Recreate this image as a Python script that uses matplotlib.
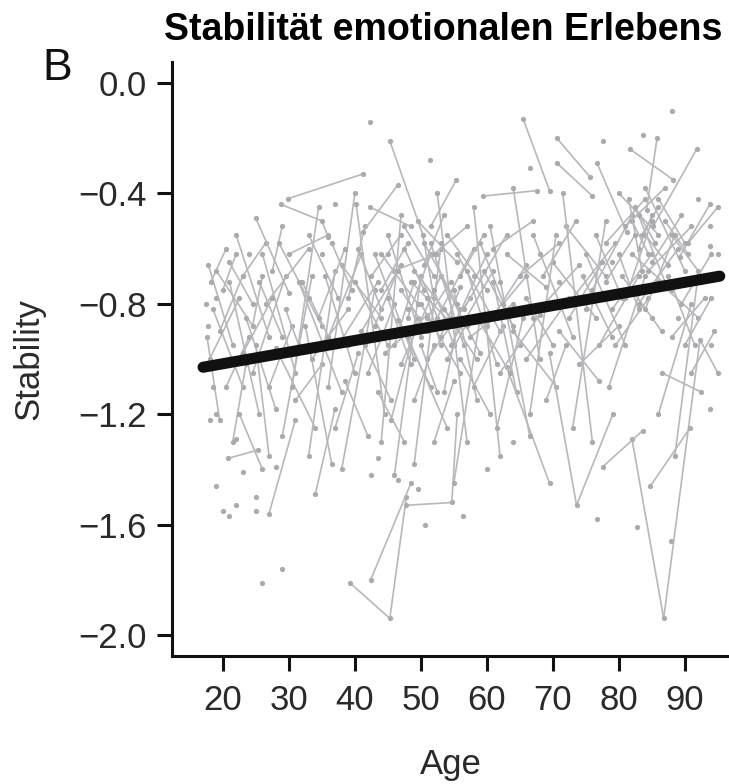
import matplotlib
matplotlib.use("Agg")
import matplotlib.pyplot as plt

plt.rcParams['font.family'] = ['Liberation Sans', 'DejaVu Sans']

# ---- data ----
traj_age = [
    [17.8, 21.5], [18.2, 20.5], [18.5, 23.0], [17.6, 19.5], [18.0, 22.5],
    [19.0, 24.5, 26.0], [20.0, 22.0], [20.5, 24.0], [21.0, 25.5], [21.5, 23.5],
    [22.0, 27.0], [23.0, 26.5], [23.5, 28.0], [25.0, 30.0], [24.5, 29.5],
    [25.0, 27.0], [26.0, 31.0], [26.5, 33.0], [27.0, 30.5], [27.5, 29.0],
    [28.0, 34.0], [28.5, 35.0], [29.0, 33.5], [29.5, 31.5], [30.0, 36.0],
    [31.0, 35.0], [31.5, 38.0], [20.8, 25.3], [27.0, 31.0], [34.0, 37.0],
    [28.8, 35.0, 36.0], [29.8, 41.2], [32.5, 36.5], [33.0, 37.5], [33.5, 39.0],
    [35.5, 40.0], [36.0, 41.0], [37.0, 40.5], [38.0, 44.0], [38.5, 42.0],
    [39.0, 41.5], [40.2, 44.5], [41.2, 46.5], [42.3, 48.5], [45.3, 50.3, 52.0],
    [40.0, 45.0], [41.0, 47.0], [42.0, 46.0], [43.0, 49.0], [43.5, 47.5],
    [44.0, 48.0], [44.5, 51.0], [45.0, 50.0], [45.5, 49.5], [46.0, 52.5],
    [46.5, 51.5], [47.0, 53.0], [47.5, 50.5], [48.0, 54.0], [48.5, 55.0],
    [49.0, 52.0], [49.5, 55.5], [50.0, 56.0], [50.5, 53.5], [51.0, 57.5],
    [51.5, 56.5], [52.0, 55.0], [52.5, 58.0], [53.0, 59.0], [53.5, 56.0],
    [54.0, 60.0], [54.5, 61.0], [55.0, 58.5], [55.5, 62.0], [56.0, 60.5],
    [56.5, 63.0], [57.0, 61.5], [57.5, 64.0], [58.0, 62.5], [51.5, 55.4],
    [59.4, 67.6], [59.0, 65.0], [60.0, 66.0], [61.0, 64.5], [62.0, 68.0],
    [63.0, 69.0], [64.0, 70.5], [65.5, 69.5], [65.0, 71.0], [66.0, 72.5],
    [67.0, 73.0], [68.0, 74.0], [69.0, 72.0], [70.6, 75.6], [70.6, 76.0],
    [70.0, 76.5], [71.0, 77.0], [72.0, 78.0], [73.0, 79.5], [74.0, 80.0],
    [75.0, 81.0], [76.7, 81.2], [76.0, 82.0], [77.0, 83.0], [78.0, 84.0],
    [79.0, 85.0], [80.0, 86.0], [80.5, 86.5], [81.0, 87.0], [81.7, 88.2],
    [82.0, 88.0], [82.5, 85.5], [83.0, 89.0], [83.5, 86.0], [84.0, 90.0],
    [84.5, 91.0], [85.2, 91.8], [84.2, 85.8], [86.0, 92.0], [87.0, 90.5],
    [89.2, 93.8], [88.0, 93.0], [86.5, 92.5], [82.0, 86.8, 92.3, 95.0], [84.8, 90.8],
    [69.5, 73.6, 79.1], [63.0, 69.5], [77.6, 83.6], [39.2, 45.3, 47.8], [42.4, 48.5],
    [47.8, 54.7, 55.5], [44.0, 47.0], [46.0, 50.0], [49.0, 53.0], [52.5, 57.0],
    [58.0, 62.0], [60.5, 66.5], [64.0, 68.0], [71.5, 76.0], [73.0, 78.0],
    [78.5, 84.0], [86.0, 91.0], [88.5, 92.0], [36.0, 40.0], [33.0, 37.0],
    [30.5, 34.5], [38.0, 43.0], [55.0, 59.0], [61.5, 65.5], [66.5, 70.5],
    [90.0, 94.0], [91.0, 94.5], [22.5, 26.0], [82.0, 84.5], [83.0, 85.0],
    [84.0, 87.5], [81.5, 83.5], [50.0, 53.0], [51.0, 54.5], [52.0, 55.0],
    [53.0, 56.0],
    [40.5, 44.0], [41.5, 45.5], [42.5, 47.0], [43.0, 46.5], [44.0, 49.5],
    [45.0, 48.5], [46.0, 49.0], [47.0, 51.0], [47.5, 52.0], [48.0, 51.5],
    [49.0, 54.5], [50.0, 52.5], [50.5, 55.5], [51.0, 53.0], [52.0, 57.0],
    [53.5, 58.5], [54.0, 57.5], [55.0, 60.0], [56.0, 59.5], [58.5, 63.5],
    [59.5, 64.0], [61.0, 67.0], [62.5, 66.0], [66.0, 70.0], [68.5, 73.5],
    [72.5, 77.5], [74.5, 79.0], [76.5, 80.5], [78.0, 82.5], [79.5, 84.5],
    [80.0, 83.0], [81.0, 85.0], [83.0, 87.0], [84.0, 88.5], [85.0, 89.5],
    [86.0, 90.0], [87.5, 91.5], [88.0, 92.0], [89.5, 94.0], [90.5, 95.0],
    [19.5, 23.0], [21.0, 24.5], [23.0, 27.5], [25.5, 29.0], [32.0, 36.0],
    [34.5, 38.5], [36.5, 39.5], [37.5, 43.5],
]
traj_val = [
    [-0.66, -0.95], [-0.72, -0.60], [-0.82, -1.10], [-0.92, -1.22], [-1.00, -0.78],
    [-0.68, -0.88, -0.70], [-0.75, -0.62], [-1.10, -0.92], [-0.72, -1.20], [-1.30, -1.02],
    [-0.55, -0.92], [-0.70, -0.58], [-0.85, -1.18], [-0.49, -0.76], [-1.05, -0.70],
    [-0.95, -1.35], [-0.62, -1.05], [-0.80, -0.60], [-1.10, -0.88], [-0.68, -0.52],
    [-0.96, -1.25], [-0.58, -0.88], [-1.28, -0.70], [-0.82, -0.95], [-0.62, -0.55],
    [-1.15, -1.02], [-0.72, -1.12], [-1.36, -1.33], [-1.56, -1.22], [-1.49, -1.18],
    [-0.44, -0.50, -0.56], [-0.42, -0.33], [-0.88, -1.38], [-0.55, -0.78], [-1.00, -0.82],
    [-0.70, -1.05], [-0.92, -0.62], [-1.25, -0.98], [-0.66, -0.85], [-1.08, -1.28],
    [-0.78, -0.52], [-0.44, -1.20], [-0.54, -0.37], [-0.45, -0.52], [-0.21, -0.55, -0.78],
    [-0.72, -0.95], [-0.90, -0.66], [-1.05, -0.80], [-0.62, -1.00], [-1.12, -1.30],
    [-0.75, -0.58], [-0.98, -0.84], [-0.55, -0.92], [-1.22, -0.85], [-0.68, -0.62],
    [-0.86, -1.10], [-1.02, -0.70], [-0.60, -0.75], [-0.92, -1.25], [-0.72, -0.88],
    [-1.15, -0.95], [-0.50, -0.65], [-0.80, -1.05], [-0.66, -0.48], [-1.00, -0.78],
    [-0.58, -0.95], [-1.30, -1.08], [-0.85, -0.60], [-0.70, -0.98], [-1.12, -0.82],
    [-0.55, -0.75], [-0.95, -0.68], [-0.75, -1.15], [-0.62, -0.90], [-1.00, -1.20],
    [-0.82, -0.55], [-0.68, -1.02], [-0.92, -0.80], [-1.10, -0.88], [-0.52, -0.35],
    [-0.41, -0.39], [-0.58, -0.95], [-0.88, -0.66], [-0.72, -1.12], [-1.05, -0.84],
    [-0.62, -0.74], [-0.90, -1.10], [-0.13, -0.39], [-0.70, -0.58], [-1.00, -0.78],
    [-0.55, -0.92], [-0.82, -0.66], [-1.15, -0.95], [-0.20, -0.34], [-0.29, -0.41],
    [-0.65, -0.85], [-0.90, -1.08], [-0.52, -0.70], [-0.78, -0.58], [-1.02, -0.88],
    [-0.62, -0.95], [-0.29, -0.54], [-0.75, -0.48], [-0.95, -0.70], [-0.58, -0.42],
    [-0.82, -0.62], [-0.40, -0.55], [-0.70, -0.90], [-0.52, -0.38], [-0.24, -0.35],
    [-0.62, -0.75], [-0.45, -0.58], [-0.80, -0.60], [-0.55, -0.45], [-0.38, -0.68],
    [-0.68, -0.52], [-0.52, -0.24], [-0.46, -0.20], [-0.72, -0.85], [-0.50, -0.62],
    [-0.63, -0.44], [-0.92, -0.78], [-1.05, -1.12], [-1.29, -1.94, -0.93, -1.05], [-1.46, -1.25],
    [-0.98, -1.53, -1.20], [-1.03, -1.45], [-1.39, -1.26], [-1.81, -1.94, -1.50], [-1.80, -1.45],
    [-1.53, -1.52, -1.20], [-1.30, -0.48], [-1.42, -0.70], [-1.38, -0.60], [-0.40, -1.30],
    [-0.45, -1.35], [-0.52, -1.28], [-0.38, -1.00], [-0.40, -1.30], [-1.25, -0.50],
    [-1.10, -0.70], [-1.20, -0.80], [-1.35, -0.70], [-1.10, -0.40], [-1.35, -0.68],
    [-1.10, -0.45], [-1.40, -0.75], [-1.45, -0.85], [-1.25, -0.85], [-1.20, -0.55],
    [-0.95, -0.78], [-1.05, -0.90], [-1.20, -1.40], [-0.50, -0.62], [-0.60, -0.48],
    [-0.55, -0.66], [-0.42, -0.68], [-0.70, -0.88], [-0.85, -0.72], [-0.75, -0.95],
    [-0.92, -0.74],
    [-0.60, -0.82], [-0.95, -1.15], [-0.70, -0.55], [-0.88, -0.68], [-0.62, -0.80],
    [-0.78, -1.02], [-0.95, -0.72], [-0.75, -0.90], [-0.52, -0.70], [-0.85, -0.62],
    [-0.68, -0.85], [-0.95, -1.12], [-0.58, -0.80], [-0.78, -0.95], [-0.62, -0.52],
    [-0.82, -1.00], [-1.00, -0.85], [-0.88, -0.62], [-0.70, -0.55], [-0.85, -1.05],
    [-0.68, -0.88], [-0.60, -0.50], [-0.80, -0.70], [-0.78, -0.95], [-0.70, -0.50],
    [-0.85, -0.65], [-0.70, -0.92], [-0.55, -0.78], [-0.72, -0.55], [-0.95, -0.78],
    [-0.62, -0.82], [-0.78, -0.50], [-0.48, -0.72], [-0.82, -0.55], [-0.65, -0.48],
    [-0.42, -0.58], [-0.70, -0.95], [-0.55, -0.68], [-0.80, -0.62], [-0.58, -0.45],
    [-0.90, -0.70], [-0.65, -0.80], [-0.98, -0.78], [-0.72, -0.92], [-0.72, -0.92],
    [-0.85, -0.60], [-0.58, -0.75], [-0.95, -0.72],
]
single_age = [42.3, 51.4, 37.0, 66.5, 77.6, 83.6, 88.0, 92.0, 93.8, 93.8,
              56.4, 76.7, 82.7, 93.8, 87.9, 26.0, 29.0, 18.9, 20.0, 21.0,
              22.0, 25.0, 25.0, 23.0, 28.0, 42.4, 43.5, 46.5, 49.5, 50.6,
              18.0, 19.0, 22.0, 17.5, 17.8, 18.5, 60.0, 64.0, 35.0, 45.0,
              58.0, 68.0, 75.0, 89.0, 94.0, 30.0, 19.0, 24.0, 33.0, 39.0,
              48.0, 53.0, 57.0, 62.0, 67.0, 71.0, 79.0, 85.0, 91.0, 95.0]
single_val = [-0.14, -0.28, -0.44, -0.31, -0.21, -0.19, -0.10, -0.42, -0.52, -0.59,
              -1.57, -1.58, -1.61, -1.18, -1.66, -1.81, -1.76, -1.46, -1.55, -1.57,
              -1.53, -1.50, -1.55, -1.41, -1.39, -1.42, -1.36, -1.44, -1.47, -1.60,
              -1.22, -1.20, -1.29, -0.80, -0.88, -1.10, -1.40, -1.30, -0.62, -0.62,
              -0.70, -0.62, -0.82, -0.85, -0.95, -0.98, -0.78, -0.62, -0.78, -0.95,
              -0.82, -0.58, -0.88, -0.72, -0.85, -0.72, -0.65, -0.85, -0.72, -0.62]
trend_age = [17.0, 95.3]
trend_val = [-1.03, -0.70]

x_ticks = [20, 30, 40, 50, 60, 70, 80, 90]
y_ticks = [0.0, -0.4, -0.8, -1.2, -1.6, -2.0]
y_tick_labels = ['0.0', '\u22120.4', '\u22120.8', '\u22121.2', '\u22121.6', '\u22122.0']

# ---- figure ----
fig = plt.figure(figsize=(7.29, 7.84), dpi=100)
ax = fig.add_axes([0.236, 0.1633, 0.764, 0.7577])

grey = '#b8b8bc'
for a, v in zip(traj_age, traj_val):
    ax.plot(a, v, color=grey, lw=1.2, marker='o', ms=3.8,
            mfc='#ababaf', mec='none', zorder=2)
ax.plot(single_age, single_val, ls='none', marker='o', ms=3.8,
        mfc='#ababaf', mec='none', zorder=2)
ax.plot(trend_age, trend_val, color='#111111', lw=8,
        solid_capstyle='round', zorder=3)

ax.set_xlim(12.3, 96.7)
ax.set_ylim(-2.076, 0.076)
ax.set_xticks(x_ticks)
ax.set_yticks(y_ticks)
ax.set_yticklabels(y_tick_labels)

for s in ['top', 'right']:
    ax.spines[s].set_visible(False)
for s in ['left', 'bottom']:
    ax.spines[s].set_linewidth(2.2)
    ax.spines[s].set_color('#111111')
ax.tick_params(direction='out', length=11, width=2.2, color='#111111',
               labelsize=25, labelcolor='#2a2a2a')
ax.tick_params(axis='x', pad=9)
ax.tick_params(axis='y', pad=7)

ax.set_xlabel('Age', fontsize=25, color='#2a2a2a')
ax.set_ylabel('Stability', fontsize=25, color='#2a2a2a')
ax.xaxis.set_label_coords(0.5, -0.155)
ax.yaxis.set_label_coords(-0.228, 0.5)

fig.text(0.608, 0.962, 'Stabilität emotionalen Erlebens', fontsize=27,
         fontweight='bold', ha='center', va='center', color='#000000')
fig.text(0.078, 0.912, 'B', fontsize=32, ha='center', va='center', color='#111111')

fig.savefig('out.png', dpi=100)
